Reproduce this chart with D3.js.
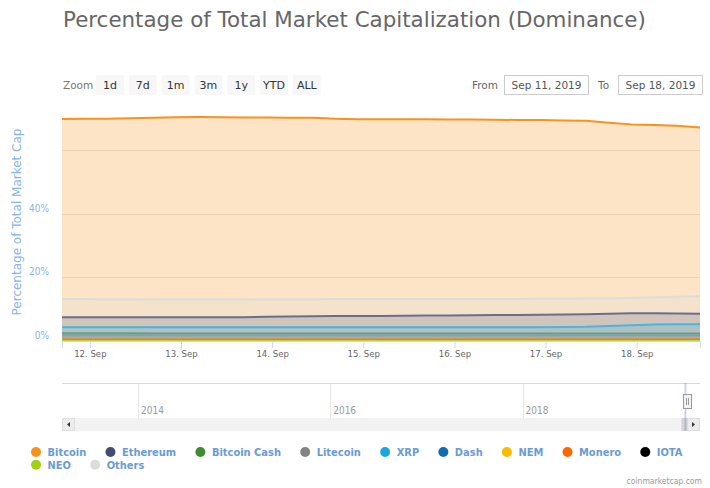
<!DOCTYPE html>
<html>
<head>
<meta charset="utf-8">
<script src="https://cdn.jsdelivr.net/npm/d3@7"></script>
<style>
  body { margin: 0; background: #fff; }
  svg { display: block; }
</style>
</head>
<body>
<div id="chart"></div>
<script>
// sample times, every 6 hours over the visible week
const dates = [
  "2019-09-11T16:40", "2019-09-11T22:40", "2019-09-12T04:40", "2019-09-12T10:40",
  "2019-09-12T16:40", "2019-09-12T22:40", "2019-09-13T04:40", "2019-09-13T10:40",
  "2019-09-13T16:40", "2019-09-13T22:40", "2019-09-14T04:40", "2019-09-14T10:40",
  "2019-09-14T16:40", "2019-09-14T22:40", "2019-09-15T04:40", "2019-09-15T10:40",
  "2019-09-15T16:40", "2019-09-15T22:40", "2019-09-16T04:40", "2019-09-16T10:40",
  "2019-09-16T16:40", "2019-09-16T22:40", "2019-09-17T04:40", "2019-09-17T10:40",
  "2019-09-17T16:40", "2019-09-17T22:40", "2019-09-18T04:40", "2019-09-18T10:40",
  "2019-09-18T16:40"
];

// dominance in % for each coin
const bitcoin = [69.9, 69.95, 70.0, 70.1, 70.25, 70.45, 70.5, 70.45, 70.4, 70.35, 70.3, 70.3, 69.95, 69.8, 69.85,
  69.8, 69.8, 69.75, 69.7, 69.65, 69.6, 69.55, 69.45, 69.35, 68.7, 68.2, 68.0, 67.75, 67.2];
const ethereum = [7.45, 7.45, 7.45, 7.45, 7.45, 7.45, 7.45, 7.45, 7.5, 7.6, 7.7, 7.8, 7.85, 7.9, 7.9,
  7.95, 8.0, 8.05, 8.1, 8.15, 8.2, 8.3, 8.35, 8.45, 8.6, 8.7, 8.7, 8.65, 8.6];
const bitcoinCash = [2.45, 2.45, 2.45, 2.45, 2.4, 2.4, 2.4, 2.4, 2.4, 2.4, 2.4, 2.4, 2.4, 2.4, 2.4,
  2.4, 2.4, 2.4, 2.4, 2.4, 2.4, 2.4, 2.4, 2.4, 2.4, 2.4, 2.4, 2.4, 2.4];
const litecoin = [1.8, 1.8, 1.8, 1.8, 1.8, 1.8, 1.8, 1.8, 1.8, 1.8, 1.8, 1.8, 1.8, 1.8, 1.8,
  1.8, 1.8, 1.8, 1.8, 1.8, 1.8, 1.8, 1.8, 1.8, 1.8, 1.8, 1.8, 1.8, 1.8];
const xrp = [4.3, 4.3, 4.3, 4.3, 4.3, 4.3, 4.3, 4.3, 4.3, 4.3, 4.3, 4.3, 4.3, 4.3, 4.3,
  4.3, 4.3, 4.3, 4.3, 4.3, 4.3, 4.35, 4.4, 4.45, 4.7, 4.95, 5.2, 5.25, 5.3];
const dash = [0.35, 0.35, 0.35, 0.35, 0.35, 0.35, 0.35, 0.35, 0.35, 0.35, 0.35, 0.35, 0.35, 0.35, 0.35,
  0.35, 0.35, 0.35, 0.35, 0.35, 0.35, 0.35, 0.35, 0.35, 0.35, 0.35, 0.35, 0.35, 0.35];
const nem = [0.15, 0.15, 0.15, 0.15, 0.15, 0.15, 0.15, 0.15, 0.15, 0.15, 0.15, 0.15, 0.15, 0.15, 0.15,
  0.15, 0.15, 0.15, 0.15, 0.15, 0.15, 0.15, 0.15, 0.15, 0.15, 0.15, 0.15, 0.15, 0.15];
const monero = [0.55, 0.55, 0.55, 0.55, 0.55, 0.55, 0.55, 0.55, 0.55, 0.55, 0.55, 0.55, 0.55, 0.55, 0.55,
  0.55, 0.55, 0.55, 0.55, 0.55, 0.55, 0.55, 0.55, 0.55, 0.55, 0.55, 0.55, 0.55, 0.55];
const iota = [0.3, 0.3, 0.3, 0.3, 0.3, 0.3, 0.3, 0.3, 0.3, 0.3, 0.3, 0.3, 0.3, 0.3, 0.3,
  0.3, 0.3, 0.3, 0.3, 0.3, 0.3, 0.3, 0.3, 0.3, 0.3, 0.3, 0.3, 0.3, 0.3];
const neo = [0.25, 0.25, 0.25, 0.25, 0.25, 0.25, 0.25, 0.25, 0.25, 0.25, 0.25, 0.25, 0.25, 0.25, 0.25,
  0.25, 0.25, 0.25, 0.25, 0.25, 0.25, 0.25, 0.25, 0.25, 0.25, 0.25, 0.25, 0.25, 0.25];
const others = [13.2, 13.2, 13.15, 13.15, 13.1, 13.1, 13.1, 13.1, 13.1, 13.15, 13.15, 13.15, 13.2, 13.2, 13.2,
  13.2, 13.2, 13.2, 13.2, 13.25, 13.25, 13.3, 13.3, 13.35, 13.4, 13.55, 13.75, 13.95, 14.1];

const seriesNames = ["Bitcoin", "Ethereum", "Bitcoin Cash", "Litecoin", "XRP", "Dash", "NEM", "Monero", "IOTA", "NEO", "Others"];
const seriesValues = [bitcoin, ethereum, bitcoinCash, litecoin, xrp, dash, nem, monero, iota, neo, others];
const seriesColors = ["#f7931a", "#454a75", "#3f8b2f", "#838383", "#1aa7e0", "#0f6db4", "#fbba00", "#ff6600", "#000000", "#9fd30f", "#dcdcdc"];

// axis ticks and labels
const yTicks = [0, 20, 40, 60];
const yTickLabels = ["0%", "20%", "40%", ""];
const xTicks = ["2019-09-12", "2019-09-13", "2019-09-14", "2019-09-15", "2019-09-16", "2019-09-17", "2019-09-18"];
const zoomButtons = ["1d", "7d", "1m", "3m", "1y", "YTD", "ALL"];
const navYears = ["2014", "2016", "2018"];
const navExtent = ["2013-03-18", "2019-11-06"];

const FONT = '"DejaVu Sans", sans-serif';
const FONT_C = '"DejaVu Sans Condensed", "DejaVu Sans", sans-serif';

class DominanceChart {

  constructor(_config, _data) {
    this.config = {
      parentElement: _config.parentElement,
      containerWidth: _config.containerWidth || 710,
      containerHeight: _config.containerHeight || 488,
      margin: _config.margin || { top: 105, right: 10, bottom: 147, left: 62 }
    }
    this.data = _data;
    this.initVis();
  }

  initVis() {
    let vis = this;
    const m = vis.config.margin;

    vis.width = vis.config.containerWidth - m.left - m.right;
    vis.height = vis.config.containerHeight - m.top - m.bottom;

    vis.svg = d3.select(vis.config.parentElement)
      .append("svg")
        .attr("width", vis.config.containerWidth)
        .attr("height", vis.config.containerHeight)
        .style("font-family", FONT);

    vis.parseTime = d3.timeParse("%Y-%m-%dT%H:%M");
    vis.parseDay = d3.timeParse("%Y-%m-%d");

    vis.x = d3.scaleTime()
      .domain(d3.extent(vis.data.dates, d => vis.parseTime(d)))
      .range([0, vis.width]);

    // top of the plot sits a bit above 74%
    vis.y = d3.scaleLinear()
      .domain([0, 74.3])
      .range([vis.height, 0]);

    // title
    vis.svg.append("text")
      .attr("x", 63)
      .attr("y", 27)
      .attr("font-size", "21.4px")
      .attr("fill", "#666")
      .text("Percentage of Total Market Capitalization (Dominance)");

    // range selector buttons
    vis.svg.append("text")
      .attr("x", 63).attr("y", 89)
      .attr("font-size", "10.5px").attr("fill", "#777")
      .text("Zoom");

    let btn = vis.svg.append("g").selectAll("g")
      .data(zoomButtons)
      .join("g")
        .attr("transform", (d, i) => `translate(${96 + i * 32.8},75)`);
    btn.append("rect")
      .attr("width", 28).attr("height", 20).attr("rx", 2)
      .attr("fill", "#f7f7f7");
    btn.append("text")
      .attr("x", 14).attr("y", 14)
      .attr("text-anchor", "middle")
      .attr("font-size", "11px").attr("fill", "#333")
      .text(d => d);

    // from / to inputs
    const fmt = d3.timeFormat("%b %d, %Y");
    const [d0, d1] = vis.x.domain();
    const inputs = [
      { label: "From", lx: 472, bx: 504.5, val: fmt(d0) },
      { label: "To", lx: 598, bx: 618.5, val: fmt(d1) }
    ];
    inputs.forEach(inp => {
      vis.svg.append("text")
        .attr("x", inp.lx).attr("y", 89)
        .attr("font-size", "10.5px").attr("fill", "#666")
        .text(inp.label);
      vis.svg.append("rect")
        .attr("x", inp.bx).attr("y", 75.5)
        .attr("width", 84).attr("height", 19)
        .attr("fill", "#fff").attr("stroke", "#ccc");
      vis.svg.append("text")
        .attr("x", inp.bx + 42).attr("y", 89)
        .attr("text-anchor", "middle")
        .attr("font-size", "10.5px").attr("fill", "#555")
        .text(inp.val);
    });

    vis.chart = vis.svg.append("g")
      .attr("transform", `translate(${m.left},${m.top})`);

    vis.svg.append("defs").append("clipPath")
        .attr("id", "plot-clip")
      .append("rect")
        .attr("width", vis.width)
        .attr("height", vis.height + 1);

    // gridlines
    vis.chart.append("g")
      .selectAll("line")
      .data(yTicks)
      .join("line")
        .attr("x1", 0).attr("x2", vis.width)
        .attr("y1", d => Math.round(vis.y(d)) + 0.5)
        .attr("y2", d => Math.round(vis.y(d)) + 0.5)
        .attr("stroke", "#e6e6e6");

    // y labels
    vis.chart.append("g")
      .selectAll("text")
      .data(yTicks)
      .join("text")
        .attr("x", -13)
        .attr("y", d => vis.y(d) - 2)
        .attr("text-anchor", "end")
        .attr("font-family", FONT_C)
        .attr("font-size", "10px")
        .attr("fill", "#86b4e6")
        .text((d, i) => yTickLabels[i]);

    vis.svg.append("text")
      .attr("transform", "translate(21,222) rotate(-90)")
      .attr("text-anchor", "middle")
      .attr("font-size", "12px")
      .attr("fill", "#86b4e6")
      .text("Percentage of Total Market Cap");

    vis.areaLayer = vis.chart.append("g").attr("clip-path", "url(#plot-clip)");

    // x axis
    vis.xAxis = d3.axisBottom(vis.x)
      .tickValues(xTicks.map(d => vis.parseDay(d)))
      .tickFormat(d3.timeFormat("%-d. %b"))
      .tickSize(7)
      .tickPadding(2);

    let xg = vis.chart.append("g")
      .attr("transform", `translate(0,${vis.height})`)
      .call(vis.xAxis);
    xg.select(".domain").attr("stroke", "#ccd6eb");
    xg.selectAll(".tick line").attr("stroke", "#ccd6eb");
    xg.selectAll(".tick text")
      .attr("font-family", FONT_C)
      .attr("font-size", "9.5px")
      .attr("fill", "#666");
  }

  renderVis() {
    let vis = this;
    const times = vis.data.dates.map(d => vis.parseTime(d));

    const area = d3.area()
      .x((d, i) => vis.x(times[i]))
      .y0(vis.y(0))
      .y1(d => vis.y(d));
    const line = d3.line()
      .x((d, i) => vis.x(times[i]))
      .y(d => vis.y(d));

    let series = vis.areaLayer.selectAll(".series")
      .data(vis.data.values)
      .join("g")
        .attr("class", "series");

    series.append("path")
      .attr("d", d => area(d))
      .attr("fill", (d, i) => vis.data.colors[i])
      .attr("fill-opacity", 0.25);

    series.append("path")
      .attr("d", d => line(d))
      .attr("fill", "none")
      .attr("stroke", (d, i) => vis.data.colors[i])
      .attr("stroke-width", 2)
      .attr("stroke-linejoin", "round");

    vis.renderNavigator();
    vis.renderLegend();
  }

  renderNavigator() {
    let vis = this;
    const m = vis.config.margin;
    const navTop = 383, sbTop = 418, sbHeight = 13;

    const nx = d3.scaleTime()
      .domain(navExtent.map(d => vis.parseDay(d)))
      .range([m.left, m.left + vis.width]);

    let nav = vis.svg.append("g");

    // year gridlines and labels
    const years = navYears.map(y => d3.timeParse("%Y")(y));
    nav.selectAll(".nav-grid")
      .data(years)
      .join("line")
        .attr("class", "nav-grid")
        .attr("x1", d => Math.round(nx(d)) + 0.5)
        .attr("x2", d => Math.round(nx(d)) + 0.5)
        .attr("y1", navTop).attr("y2", sbTop)
        .attr("stroke", "#e6e6e6");
    nav.selectAll(".nav-label")
      .data(years)
      .join("text")
        .attr("class", "nav-label")
        .attr("x", d => nx(d) + 3)
        .attr("y", 414)
        .attr("font-family", FONT_C)
        .attr("font-size", "10px")
        .attr("fill", "#999")
        .text(d => d3.timeFormat("%Y")(d));

    nav.append("line")
      .attr("x1", m.left).attr("x2", m.left + vis.width)
      .attr("y1", navTop + 0.5).attr("y2", navTop + 0.5)
      .attr("stroke", "#d8d8d8");

    // scrollbar track and buttons
    nav.append("rect")
      .attr("x", m.left).attr("y", sbTop)
      .attr("width", vis.width).attr("height", sbHeight)
      .attr("fill", "#f2f2f2");

    const [d0, d1] = vis.x.domain();
    const selX0 = nx(d0), selX1 = nx(d1);

    // selected window (a week is only a sliver here)
    nav.append("rect")
      .attr("x", selX0 - 4).attr("y", sbTop)
      .attr("width", Math.max(selX1 - selX0, 1) + 4).attr("height", sbHeight)
      .attr("fill", "#d5d5d5");
    nav.append("rect")
      .attr("x", selX0 - 1).attr("y", navTop)
      .attr("width", 2).attr("height", sbTop + sbHeight - navTop)
      .attr("fill", "rgba(102,133,194,0.35)");

    const buttons = [
      { x: m.left, dir: -1 },
      { x: m.left + vis.width - sbHeight, dir: 1 }
    ];
    buttons.forEach(b => {
      nav.append("rect")
        .attr("x", b.x + 0.5).attr("y", sbTop + 0.5)
        .attr("width", sbHeight - 1).attr("height", sbHeight - 1)
        .attr("fill", "#ececec").attr("stroke", "#ddd");
      const cx = b.x + sbHeight / 2, cy = sbTop + sbHeight / 2;
      nav.append("path")
        .attr("d", `M${cx + 1.5 * b.dir},${cy} L${cx - 1.5 * b.dir},${cy - 2.5} L${cx - 1.5 * b.dir},${cy + 2.5} Z`)
        .attr("fill", "#333");
    });

    // navigator handle
    const hx = Math.round(selX1);
    nav.append("rect")
      .attr("x", hx - 3.5).attr("y", 394.5)
      .attr("width", 8).attr("height", 14)
      .attr("fill", "#f2f2f2").attr("stroke", "#999");
    [-0.5, 1.5].forEach(o => {
      nav.append("line")
        .attr("x1", hx + o).attr("x2", hx + o)
        .attr("y1", 398).attr("y2", 405)
        .attr("stroke", "#999");
    });
  }

  renderLegend() {
    let vis = this;
    let legend = vis.svg.append("g");
    let lx = 36, ly = 452;

    vis.data.names.forEach((name, i) => {
      let g = legend.append("g");
      let t = g.append("text")
        .attr("font-family", FONT_C)
        .attr("font-weight", "bold")
        .attr("font-size", "11px")
        .attr("fill", "#6a9bd3")
        .text(name);
      const w = t.node().getComputedTextLength();
      if (lx + 11.5 + w > 700) {
        lx = 36;
        ly += 12.7;
      }
      g.append("circle")
        .attr("cx", lx).attr("cy", ly).attr("r", 5)
        .attr("fill", vis.data.colors[i]);
      t.attr("x", lx + 11.5).attr("y", ly + 4);
      lx += 11.5 + w + 24.2;
    });

    vis.svg.append("text")
      .attr("x", 702).attr("y", 484)
      .attr("text-anchor", "end")
      .attr("font-family", FONT_C)
      .attr("font-size", "8.5px")
      .attr("fill", "#999")
      .text("coinmarketcap.com");
  }
}

const chart = new DominanceChart({ parentElement: "#chart" }, {
  dates: dates,
  values: seriesValues,
  names: seriesNames,
  colors: seriesColors
});
chart.renderVis();
</script>
</body>
</html>
